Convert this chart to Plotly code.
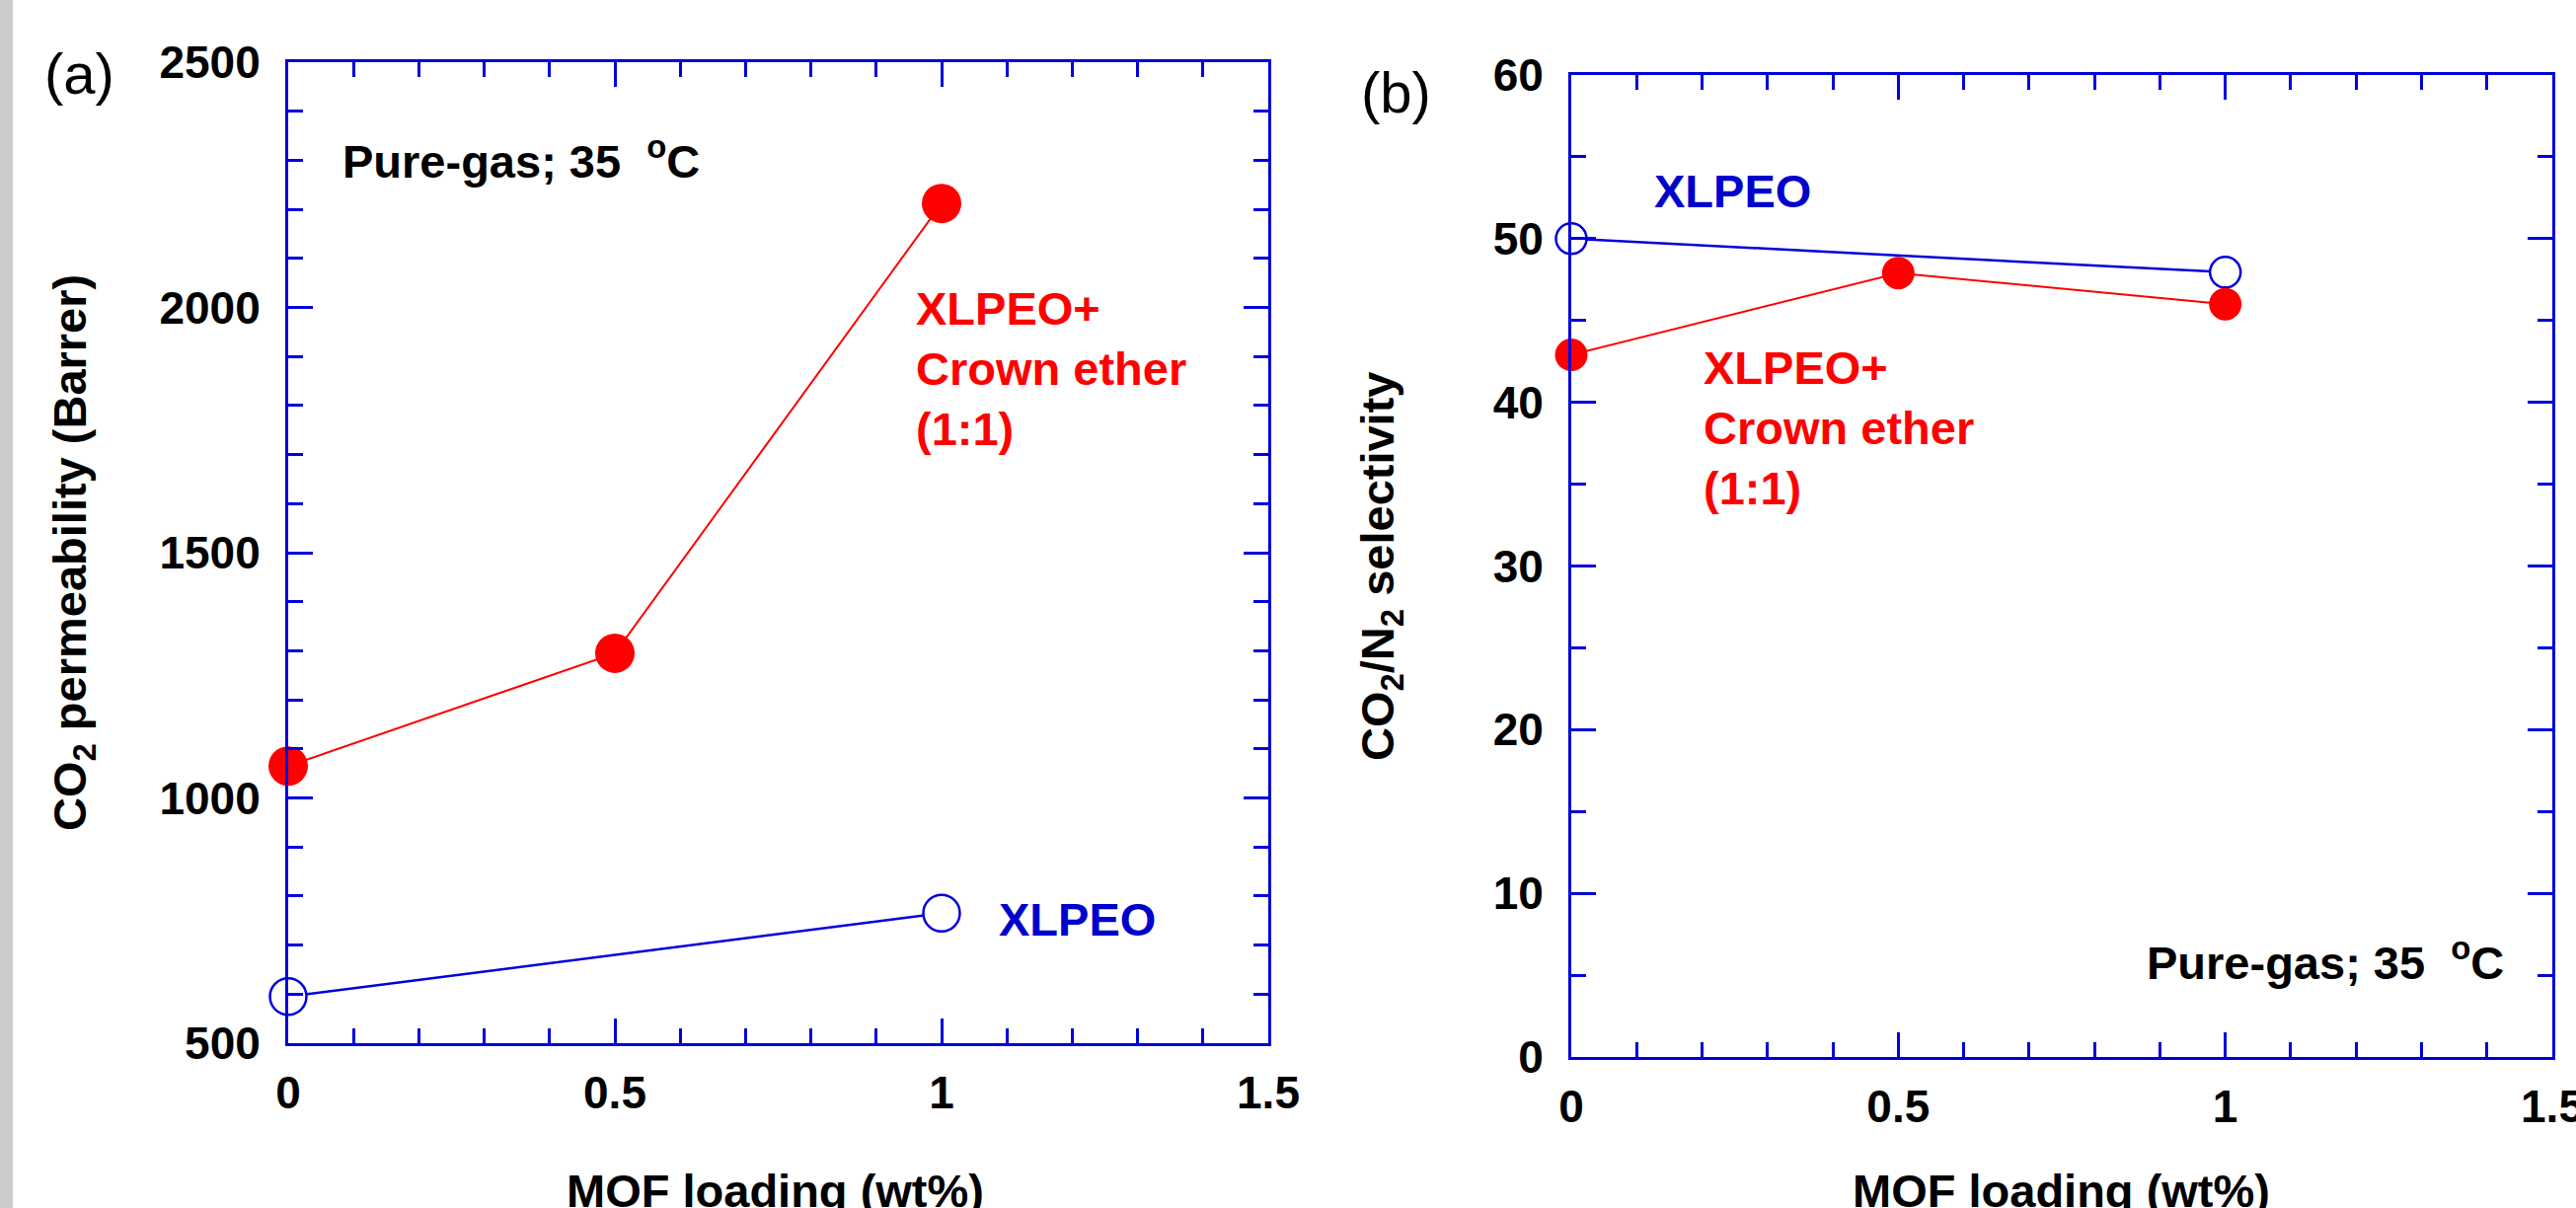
import plotly.graph_objects as go

W, H = 2610, 1224
FONT = "Liberation Sans, Arial, sans-serif"
BLUE = "#0000dd"
RED = "#ff0000"

# ---------------- data ----------------
# (a) CO2 permeability (Barrer) vs MOF loading (wt%)
perm_xlpeo_x = [0, 1]
perm_xlpeo = [595, 765]
perm_crown_x = [0, 0.5, 1]
perm_crown = [1065, 1295, 2212]

# (b) CO2/N2 selectivity vs MOF loading (wt%)
sel_xlpeo_x = [0, 1]
sel_xlpeo = [50.0, 47.95]
sel_crown_x = [0, 0.5, 1]
sel_crown = [42.9, 47.9, 46.0]

x_tickvals = [0, 0.5, 1, 1.5]
x_ticktext = ["0", "0.5", "1", "1.5"]
perm_tickvals = [500, 1000, 1500, 2000, 2500]
sel_tickvals = [0, 10, 20, 30, 40, 50, 60]


def px(x):
    return x / W


def py(y):
    return 1 - y / H


fig = go.Figure()

# (a)
fig.add_trace(go.Scatter(x=perm_xlpeo_x, y=perm_xlpeo, mode="lines+markers",
                         line=dict(color=BLUE, width=2.5),
                         marker=dict(size=37, color="white", line=dict(color=BLUE, width=2.5)),
                         xaxis="x", yaxis="y", showlegend=False, cliponaxis=False))
fig.add_trace(go.Scatter(x=perm_crown_x, y=perm_crown, mode="lines+markers",
                         line=dict(color=RED, width=2),
                         marker=dict(size=40, color=RED),
                         xaxis="x", yaxis="y", showlegend=False, cliponaxis=False))
# (b)
fig.add_trace(go.Scatter(x=sel_xlpeo_x, y=sel_xlpeo, mode="lines+markers",
                         line=dict(color=BLUE, width=2.5),
                         marker=dict(size=31, color="white", line=dict(color=BLUE, width=2.5)),
                         xaxis="x2", yaxis="y2", showlegend=False, cliponaxis=False))
fig.add_trace(go.Scatter(x=sel_crown_x, y=sel_crown, mode="lines+markers",
                         line=dict(color=RED, width=2),
                         marker=dict(size=33, color=RED),
                         xaxis="x2", yaxis="y2", showlegend=False, cliponaxis=False))

tickfont = dict(family=FONT, size=46, color="black", weight="bold")
common = dict(showline=True, linecolor=BLUE, linewidth=3, mirror="ticks",
              ticks="inside", ticklen=25, tickwidth=3, tickcolor=BLUE,
              showgrid=False, zeroline=False, tickfont=tickfont,
              ticklabeloverflow="allow", automargin=False)

fig.update_layout(
    width=W, height=H, autosize=False,
    margin=dict(l=0, r=0, t=0, b=0, pad=0, autoexpand=False),
    paper_bgcolor="white", plot_bgcolor="white",
    xaxis=dict(domain=[px(292), px(1285)], range=[0, 1.5], anchor="y",
               tickmode="array", tickvals=x_tickvals, ticktext=x_ticktext,
               ticklabelstandoff=8,
               minor=dict(dtick=0.1, tick0=0, ticks="inside", ticklen=15, tickwidth=2.5,
                          tickcolor=BLUE, showgrid=False), **common),
    yaxis=dict(domain=[py(1057), py(63)], range=[500, 2500], anchor="x",
               tickmode="array", tickvals=perm_tickvals,
               ticklabelstandoff=16,
               minor=dict(dtick=100, tick0=0, ticks="inside", ticklen=15, tickwidth=2.5,
                          tickcolor=BLUE, showgrid=False), **common),
    xaxis2=dict(domain=[px(1592), px(2586)], range=[0, 1.5], anchor="y2",
                tickmode="array", tickvals=x_tickvals, ticktext=x_ticktext,
                ticklabelstandoff=8,
                minor=dict(dtick=0.1, tick0=0, ticks="inside", ticklen=15, tickwidth=2.5,
                           tickcolor=BLUE, showgrid=False), **common),
    yaxis2=dict(domain=[py(1071), py(76)], range=[0, 60], anchor="x2",
                tickmode="array", tickvals=sel_tickvals,
                ticklabelstandoff=16,
                minor=dict(dtick=5, tick0=0, ticks="inside", ticklen=15, tickwidth=2.5,
                           tickcolor=BLUE, showgrid=False), **common),
)

# gray strip at the left edge
fig.add_shape(type="rect", xref="paper", yref="paper", x0=0, x1=px(13), y0=0, y1=1,
              fillcolor="#cccccc", line=dict(width=0), layer="below")

bold = dict(family=FONT, size=47, weight="bold")


def ann(text, x, y, color="black", xanchor="left", font=None, angle=0, align="left"):
    f = dict(bold) if font is None else dict(font)
    f["color"] = color
    fig.add_annotation(text=text, x=px(x), y=py(y), xref="paper", yref="paper",
                       xanchor=xanchor, yanchor="middle", showarrow=False,
                       font=f, textangle=angle, align=align)


panel_font = dict(family=FONT, size=58)
ann("(a)", 80, 74, xanchor="center", font=panel_font)
ann("(b)", 1414, 94, xanchor="center", font=panel_font)

ann("Pure-gas; 35\u00a0 <sup>o</sup>C", 345, 160)
ann("Pure-gas; 35\u00a0 <sup>o</sup>C", 2173, 972)

ann("XLPEO+<br>Crown ether<br>(1:1)", 926, 373, color=RED)
ann("XLPEO", 1010, 931, color="#0000cc")

ann("XLPEO", 1674, 193, color="#0000cc")
ann("XLPEO+<br>Crown ether<br>(1:1)", 1724, 433, color=RED)

# axis titles
ann("CO<sub>2</sub> permeability (Barrer)", 74, 560, xanchor="center", angle=-90, align="center")
ann("CO<sub>2</sub>/N<sub>2</sub> selectivity", 1399, 574, xanchor="center", angle=-90, align="center")
ann("MOF loading (wt%)", 785, 1206, xanchor="center", align="center")
ann("MOF loading (wt%)", 2088, 1206, xanchor="center", align="center")

fig.write_html("out.html", config={"displayModeBar": False})
